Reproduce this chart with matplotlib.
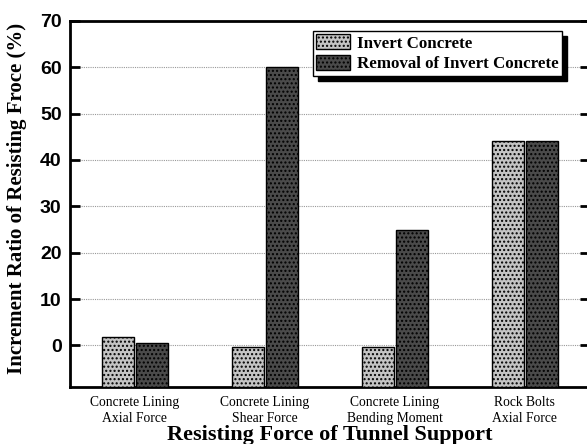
import numpy as np
import matplotlib.pyplot as plt

# Increment ratio of resisting force (%) for each support member
categories = ['Concrete Lining\nAxial Force', 'Concrete Lining\nShear Force',
              'Concrete Lining\nBending Moment', 'Rock Bolts\nAxial Force']
invert = [1.9, -0.3, -0.3, 44.0]
removal = [0.6, 60.0, 24.8, 44.0]
yticks = [0, 10, 20, 30, 40, 50, 60, 70]

serif = 'Liberation Serif'
sans = 'Liberation Sans'

plt.rcParams['hatch.color'] = '#888888'

fig = plt.figure(figsize=(5.87, 4.44), dpi=100)
ax = fig.add_axes([0.119, 0.128, 0.886, 0.825])

ymin, ymax = -9, 70
x = np.arange(len(categories))
w = 0.245

# bars rise from the bottom of the axes
inv_h = [v - ymin for v in invert]
rem_h = [v - ymin for v in removal]
ax.bar(x - 0.132, inv_h, w, bottom=ymin, color='#c4c4c4', edgecolor='black',
       linewidth=1.0, hatch='....', label='Invert Concrete', zorder=3)
ax.bar(x + 0.132, rem_h, w, bottom=ymin, color='#4a4a4a', edgecolor='black',
       linewidth=1.0, hatch='....', label='Removal of Invert Concrete', zorder=3)

ax.set_xlim(-0.5, 3.5)
ax.set_ylim(ymin, ymax)
ax.set_yticks(yticks)
ax.set_yticklabels([str(t) for t in yticks], fontfamily=sans, fontweight='bold', fontsize=14)
ax.set_xticks(x)
ax.set_xticklabels(categories, fontfamily=serif, fontsize=9.8, linespacing=1.35)
ax.tick_params(axis='y', direction='in', length=7, width=2, right=True, pad=6)
ax.tick_params(axis='x', length=0, pad=6)

for t in yticks[:-1]:
    ax.axhline(t, color='#999999', linestyle=(0, (1, 1)), linewidth=0.8, zorder=1)

for s in ax.spines.values():
    s.set_linewidth(2)

ax.set_xlabel('Resisting Force of Tunnel Support', fontfamily=serif,
              fontweight='bold', fontsize=16, labelpad=0)
ax.set_ylabel('Increment Ratio of Resisting Froce (%)', fontfamily=serif,
              fontweight='bold', fontsize=15.0)
ax.yaxis.set_label_coords(-0.082, 0.514)

leg = ax.legend(loc='upper left', bbox_to_anchor=(0.467, 0.973), prop={'family': serif,
                'weight': 'bold', 'size': 12.2}, frameon=True, fancybox=False,
                shadow={'color': 'black', 'alpha': 1, 'ox': 4, 'oy': -4},
                borderpad=0.2, handlelength=2.0, handleheight=1.0,
                handletextpad=0.4, labelspacing=0.2, borderaxespad=0)
leg.get_frame().set_edgecolor('black')
leg.get_frame().set_linewidth(1.0)

fig.savefig('out.png', dpi=100)
